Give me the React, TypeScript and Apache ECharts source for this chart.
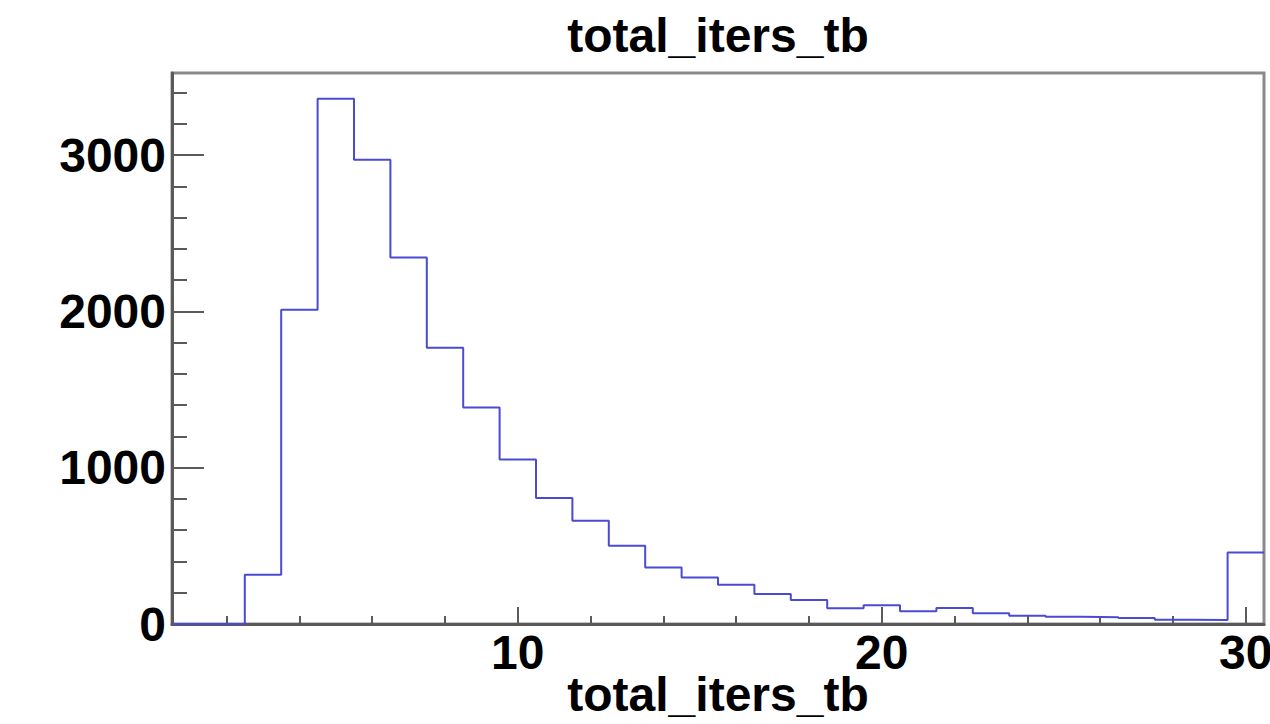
import React, { useEffect, useRef } from "react";
import * as echarts from "echarts";

// Histogram: total_iters_tb, bins centred on integers 1..30 (width 1)
const binCenters = [
  1, 2, 3, 4, 5, 6, 7, 8, 9, 10, 11, 12, 13, 14, 15, 16, 17, 18, 19, 20, 21, 22, 23, 24, 25, 26, 27, 28, 29, 30,
];
const binCounts = [
  0, 0, 315, 2010, 3360, 2970, 2345, 1768, 1385, 1052, 806, 660, 500, 362, 298, 251, 192, 153, 100, 120, 81, 102,
  68, 53, 47, 43, 38, 27, 26, 458,
];
const binWidth = 1;

const xMajorTicks = [10, 20, 30];
const xMinorTicks = [2, 4, 6, 8, 12, 14, 16, 18, 22, 24, 26, 28];
const yMajorTicks = [0, 1000, 2000, 3000];
const yMinorTicks = [200, 400, 600, 800, 1200, 1400, 1600, 1800, 2200, 2400, 2600, 2800, 3200, 3400];

const titleText = "total_iters_tb";
const xTitle = "total_iters_tb";

const X_MIN = 0.5;
const X_MAX = 30.5;
const Y_MIN = 0;
const Y_MAX = 3525;

export default function App() {
  const ref = useRef<HTMLDivElement>(null);

  useEffect(() => {
    document.body.style.margin = "0";
    if (!ref.current) return;
    const chart = echarts.init(ref.current, null, { renderer: "svg" });

    // step points at bin left edges, plus the final right edge
    const stepData: number[][] = binCenters.map((c, i) => [c - binWidth / 2, binCounts[i]]);
    stepData.push([binCenters[binCenters.length - 1] + binWidth / 2, binCounts[binCounts.length - 1]]);

    const font = {
      fontFamily: "Liberation Sans, Arial, Helvetica, sans-serif",
      fontWeight: "bold" as const,
      fontSize: 48,
      color: "#000",
    };
    const axisGray = "#5a5a5a";
    const plain = (v: number) => String(v);

    chart.setOption({
      animation: false,
      backgroundColor: "#ffffff",
      title: {
        text: titleText,
        left: 718,
        top: 11,
        textAlign: "center",
        padding: 0,
        textStyle: { ...font },
      },
      grid: {
        left: 172,
        right: 6,
        top: 73,
        bottom: 100,
        show: true,
        borderColor: "#8a8a8a",
        borderWidth: 3,
        backgroundColor: "transparent",
        containLabel: false,
        outerBoundsMode: "none",
      },
      xAxis: [
        {
          type: "value",
          min: X_MIN,
          max: X_MAX,
          position: "bottom",
          name: xTitle,
          nameLocation: "middle",
          nameGap: 46,
          nameMoveOverlap: false,
          nameTextStyle: { ...font },
          axisLine: { show: true, onZero: false, lineStyle: { color: axisGray, width: 3 } },
          axisTick: { show: true, inside: true, length: 17, customValues: xMajorTicks, lineStyle: { color: axisGray, width: 2 } },
          axisLabel: { show: true, margin: 4, customValues: xMajorTicks, formatter: plain, ...font },
          splitLine: { show: false },
        },
        {
          type: "value",
          min: X_MIN,
          max: X_MAX,
          position: "bottom",
          axisLine: { show: false },
          axisTick: { show: true, inside: true, length: 8, customValues: xMinorTicks, lineStyle: { color: axisGray, width: 2 } },
          axisLabel: { show: false },
          splitLine: { show: false },
        },
      ],
      yAxis: [
        {
          type: "value",
          min: Y_MIN,
          max: Y_MAX,
          position: "left",
          axisLine: { show: true, onZero: false, lineStyle: { color: axisGray, width: 3 } },
          axisTick: { show: true, inside: true, length: 32, customValues: yMajorTicks, lineStyle: { color: axisGray, width: 2 } },
          axisLabel: { show: true, margin: 6, customValues: yMajorTicks, formatter: plain, ...font },
          splitLine: { show: false },
        },
        {
          type: "value",
          min: Y_MIN,
          max: Y_MAX,
          position: "left",
          axisLine: { show: false },
          axisTick: { show: true, inside: true, length: 15, customValues: yMinorTicks, lineStyle: { color: axisGray, width: 2 } },
          axisLabel: { show: false },
          splitLine: { show: false },
        },
      ],
      series: [
        {
          type: "line",
          xAxisIndex: 0,
          yAxisIndex: 0,
          step: "end",
          data: stepData,
          showSymbol: false,
          symbol: "none",
          clip: true,
          lineStyle: { color: "#4a4ad2", width: 2 },
        },
      ],
    });

    return () => {
      chart.dispose();
    };
  }, []);

  return (
    <div
      ref={ref}
      style={{ position: "fixed", left: 0, top: 0, width: 1270, height: 724, background: "#fff" }}
    />
  );
}
